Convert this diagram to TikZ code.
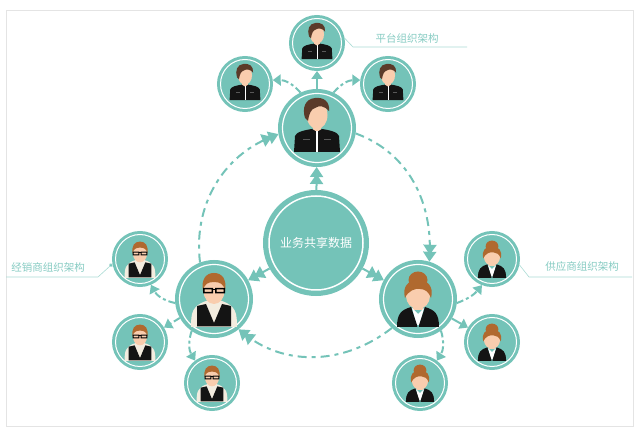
\documentclass[tikz,border=0pt]{standalone}
\usepackage{fontspec}
\setmainfont{Noto Sans CJK SC}
\usetikzlibrary{arrows.meta}
\definecolor{tealfill}{HTML}{74C3B8}
\definecolor{tealtext}{HTML}{86CBC2}
\definecolor{skin}{HTML}{F9CDAE}
\definecolor{darkhair}{HTML}{5B3A29}
\definecolor{redhair}{HTML}{B0692F}
\definecolor{cream}{HTML}{F3ECDF}
\definecolor{framegray}{HTML}{E4E4E4}
\begin{document}
\begin{tikzpicture}[x=1pt, y=1pt]
    \tikzstyle{ring}=[circle, draw=tealfill, fill=tealfill, double=white, inner sep=0pt]
    \tikzstyle{hubnode}=[ring, minimum size=94pt, line width=5.25pt, double distance=1.5pt, outer sep=6pt]
    \tikzstyle{mainnode}=[ring, minimum size=69pt, line width=3.9pt, double distance=1.2pt, outer sep=4.5pt]
    \tikzstyle{smallnode}=[ring, minimum size=49pt, line width=3pt, double distance=1pt, outer sep=3.5pt]
    \tikzstyle{orbit}=[draw=tealfill, line width=2pt, dash pattern=on 9pt off 5pt on 4pt off 5pt, -{Triangle[length=10pt, width=13pt, sep=-3pt] Triangle[length=10pt, width=13pt]}]
    \tikzstyle{spoke}=[draw=tealfill, line width=2pt, -{Triangle[length=10pt, width=13pt, sep=-3pt] Triangle[length=10pt, width=13pt]}]
    \tikzstyle{branch}=[draw=tealfill, line width=2pt, dash pattern=on 7pt off 3pt on 3pt off 3pt, -{Triangle[length=8pt, width=11pt]}]
    \tikzstyle{leader}=[draw=tealtext!70, line width=.6pt]
    \tikzstyle{grouplabel}=[text=tealtext, font=\fontsize{10.5pt}{12pt}\selectfont, inner sep=0pt]

    \tikzset{
        manicon/.pic={
            \fill[skin] (-4,-4) rectangle (4,6);
            \fill[black!92] (-23,-24) -- (-22,-8) .. controls (-21,-4) and (-12,-2) .. (-5,-1) -- (0,-4) -- (5,-1) .. controls (12,-2) and (21,-4) .. (22,-8) -- (23,-24) -- cycle;
            \fill[white] (-.7,-24) rectangle (.7,-3);
            \fill[black!65] (-14,-12.5) rectangle (-7,-11.5);
            \fill[black!65] (7,-12.5) rectangle (14,-11.5);
            \fill[skin] (0,13) ellipse [x radius=10.5, y radius=14];
            \fill[darkhair] (-12,10) .. controls (-15,20) and (-12,29) .. (-2,30) .. controls (6,31) and (13,27) .. (12,17) .. controls (8,22) and (2,23) .. (-2,20) .. controls (-6,19) and (-8,14) .. (-9,7) -- cycle;
        },
        vesticon/.pic={
            \fill[cream] (-23,-28) .. controls (-23,-14) and (-22,-7) .. (-8,-2) -- (8,-2) .. controls (22,-7) and (23,-14) .. (23,-28) -- cycle;
            \fill[skin] (-5,-3) rectangle (5,6);
            \fill[cream] (-7,-6) rectangle (7,-1);
            \fill[black!92] (-17,-27.5) -- (-17,-7) -- (-8,-5) -- (0,-24) -- (8,-5) -- (17,-7) -- (17,-27.5) -- cycle;
            \fill[skin] (0,8) ellipse [x radius=10.5, y radius=13];
            \fill[redhair] (-11,8) .. controls (-13,20) and (-8,26) .. (0,26) .. controls (8,26) and (13,20) .. (11,8) .. controls (10,15) and (6,17) .. (0,17) .. controls (-6,17) and (-10,15) .. (-11,8) -- cycle;
            \fill[black, even odd rule] (-11,5.5) rectangle (-1,11) (-9.5,7) rectangle (-2.5,9.5);
            \fill[black, even odd rule] (1,5.5) rectangle (11,11) (2.5,7) rectangle (9.5,9.5);
            \fill[black] (-1,8.5) rectangle (1,10);
        },
        womanicon/.pic={
            \fill[skin] (-5,-11) rectangle (5,2);
            \fill[black!92] (-21,-28) .. controls (-21,-15) and (-17,-11) .. (-7,-8) -- (-3,-28) -- (3,-28) -- (7,-8) .. controls (17,-11) and (21,-15) .. (21,-28) -- cycle;
            \fill[white] (-6,-9) -- (0,-15) -- (6,-9) -- (1.5,-26) -- (-1.5,-26) -- cycle;
            \fill[black!92] (-7,-8) -- (-1,-26) -- (-1,-28) -- (-8,-28) -- cycle;
            \fill[black!92] (7,-8) -- (1,-26) -- (1,-28) -- (8,-28) -- cycle;
            \fill[skin] (0,3) ellipse [x radius=12, y radius=13];
            \fill[redhair] (0,19) ellipse [x radius=9.5, y radius=8.5];
            \fill[redhair] (-13,1) .. controls (-16,12) and (-10,19) .. (0,19) .. controls (10,19) and (16,12) .. (13,1) .. controls (11,7) and (7,10) .. (2,10) .. controls (-3,11) and (-10,8) .. (-13,1) -- cycle;
        }
    }

    \useasboundingbox (0,0) rectangle (640,431);
    \draw[framegray, line width=.8pt] (6,5) rectangle (633,421);

    \node[hubnode, text=white, font=\fontsize{12pt}{14pt}\selectfont] (hub) at (316,188) {业务共享数据};
    \node[mainnode] (platmain) at (317,303) {};
    \node[mainnode] (dealmain) at (214,132) {};
    \node[mainnode] (supmain) at (418,132) {};
    \node[smallnode] (plattop) at (317,388) {};
    \node[smallnode] (platleft) at (245,347) {};
    \node[smallnode] (platright) at (388,347) {};
    \node[smallnode] (dealup) at (140,172) {};
    \node[smallnode] (dealmid) at (140,89) {};
    \node[smallnode] (deallow) at (212,48) {};
    \node[smallnode] (supup) at (492,172) {};
    \node[smallnode] (supmid) at (492,89) {};
    \node[smallnode] (suplow) at (420,48) {};

    \pic at (platmain) {manicon};
    \pic at (dealmain) {vesticon};
    \pic at (supmain) {womanicon};
    \pic[scale=.67] at (plattop) {manicon};
    \pic[scale=.67] at (platleft) {manicon};
    \pic[scale=.67] at (platright) {manicon};
    \pic[scale=.67] at (dealup) {vesticon};
    \pic[scale=.67] at (dealmid) {vesticon};
    \pic[scale=.67] at (deallow) {vesticon};
    \pic[scale=.67] at (supup) {womanicon};
    \pic[scale=.67] at (supmid) {womanicon};
    \pic[scale=.67] at (suplow) {womanicon};

    \path (hub) edge[spoke] (platmain);
    \path (hub) edge[spoke] (dealmain);
    \path (hub) edge[spoke] (supmain);

    \path (dealmain.111) edge[orbit, out=97, in=202] (platmain.189);
    \path (platmain.-8) edge[orbit, out=-20, in=88] (supmain.73);
    \path (supmain.228) edge[orbit, out=218, in=322] (dealmain.-51);

    \path (platmain) edge[branch, dash pattern=] (plattop);
    \path (platmain.115) edge[branch, bend right=25] (platleft.8);
    \path (platmain.65) edge[branch, bend left=25] (platright.172);
    \path (dealmain.186) edge[branch, bend left=25] (dealup.-67);
    \path (dealmain.209) edge[branch] (dealmid.31);
    \path (dealmain.235) edge[branch, bend right=25] (deallow.127);
    \path (supmain.-6) edge[branch, bend right=15] (supup.249);
    \path (supmain.-30) edge[branch, dash pattern=] (supmid.149);
    \path (supmain.-54) edge[branch, bend left=25] (suplow.53);

    \node[grouplabel] (platlabel) at (407,393) {平台组织架构};
    \node[grouplabel] (deallabel) at (48,164) {经销商组织架构};
    \node[grouplabel] (suplabel) at (582,164) {供应商组织架构};

    \coordinate (platbend) at (353,384);
    \coordinate (platend) at (467,384);
    \coordinate (dealbend) at (98,154);
    \coordinate (dealend) at (6,154);
    \coordinate (supbend) at (529,154);
    \coordinate (supend) at (632,154);

    \draw[leader] (plattop.10) -- (platbend) -- (platend);
    \draw[leader, {Circle[length=4pt, fill=tealfill]}-] (dealup.190) -- (dealbend) -- (dealend);
    \draw[leader] (supup.-12) -- (supbend) -- (supend);
\end{tikzpicture}
\end{document}
